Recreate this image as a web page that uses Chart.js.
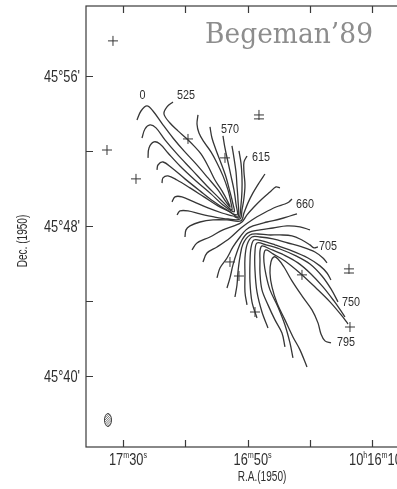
<!DOCTYPE html>
<html>
<head>
<meta charset="utf-8">
<script src="https://cdn.jsdelivr.net/npm/chart.js@4.4.0/dist/chart.umd.min.js"></script>
<style>
  html, body { margin: 0; padding: 0; background: #fff; overflow: hidden; }
  #wrap { width: 397px; height: 489px; overflow: hidden; }
  canvas { display: block; }
</style>
</head>
<body>
<div id="wrap"><canvas id="map" width="420" height="489"></canvas></div>
<script>
// x = R.A. in seconds of time after 10h16m, y = Dec. in arcmin after 45°
const raTicks = [90, 70, 50, 30, 10];
const raTickLabels = { 90: '17m30s', 50: '16m50s', 10: '10h16m10s' };
const decTicks = [56, 52, 48, 44, 40];
const decTickLabels = { 56: "45°56'", 48: "45°48'", 40: "45°40'" };

// isovelocity contours (km/s), each read as [ra, dec] vertices
const c525 = [[85.51,53.65],[84.23,54.13],[82.30,54.40],[80.38,54.13],[77.17,53.39],[73.96,52.69],[70.43,52.00],[66.57,51.31],[62.72,50.56],[59.51,49.92],[56.94,49.28],[55.66,49.01],[56.30,49.28],[58.23,49.87],[60.48,50.45],[62.72,51.20],[64.97,51.84],[67.22,52.27],[69.78,52.69],[72.35,53.07],[74.92,53.49],[76.85,53.97],[75.88,54.35],[73.96,54.61]];
const c540 = [[83.91,52.69],[82.95,53.17],[81.34,53.39],[79.41,53.23],[76.53,52.59],[72.67,51.84],[67.86,50.99],[63.04,50.13],[58.87,49.44],[56.30,49.01],[55.02,48.85],[55.34,49.23],[56.30,49.92],[57.91,50.67],[59.83,51.36],[61.76,51.95],[64.01,52.48],[65.61,52.96],[66.25,53.44],[65.93,53.92]];
const c555 = [[81.98,51.63],[81.66,52.16],[80.06,52.48],[78.13,52.37],[75.56,51.89],[71.71,51.20],[66.57,50.40],[61.76,49.71],[57.91,49.12],[54.38,48.75],[54.70,49.17],[55.66,49.81],[56.94,50.61],[58.55,51.36],[60.15,52.05],[61.44,52.69],[62.08,53.28]];
const c570 = [[79.09,50.99],[78.77,51.25],[77.17,51.41],[74.28,51.09],[70.11,50.51],[65.29,49.87],[61.12,49.33],[57.27,48.91],[53.41,48.59],[53.73,49.17],[54.38,49.92],[55.34,50.67],[56.30,51.41],[57.27,52.16],[57.91,52.80]];
const c585 = [[77.49,50.29],[77.17,50.56],[75.56,50.67],[72.67,50.45],[68.50,50.03],[64.01,49.55],[59.51,49.07],[55.66,48.75],[53.09,48.48],[53.09,49.39],[53.41,50.13],[53.73,50.88],[54.38,51.63],[55.02,52.27]];
const c600 = [[74.28,49.28],[73.32,49.55],[71.07,49.55],[67.22,49.28],[62.72,48.96],[58.23,48.69],[54.70,48.53],[52.77,48.43],[52.13,49.12],[51.81,49.87],[51.81,50.61],[52.13,51.36],[52.77,52.00]];
const c615 = [[72.67,48.59],[71.71,48.80],[69.14,48.80],[65.29,48.64],[60.80,48.48],[56.30,48.37],[52.45,48.37],[51.81,48.85],[51.17,49.49],[50.85,50.19],[51.17,50.88],[51.17,51.41],[50.20,51.73]];
const c630 = [[70.11,47.41],[69.78,47.79],[68.50,48.00],[65.29,48.21],[61.12,48.32],[56.62,48.32],[52.13,48.27],[51.17,48.69],[49.88,49.23],[48.28,49.76],[46.35,50.29],[44.43,50.77]];
const c645 = [[67.86,46.72],[66.25,47.09],[62.08,47.41],[57.91,47.79],[54.38,48.00],[51.81,48.21],[50.20,48.59],[47.96,49.01],[45.39,49.44],[42.82,49.81],[40.89,50.08],[39.61,50.03]];
const c660 = [[64.33,46.08],[63.04,46.56],[59.83,46.88],[55.66,47.36],[52.13,47.89],[48.60,48.32],[44.75,48.69],[40.89,49.01],[38.01,49.17],[36.72,49.28],[35.76,49.44]];
const c675 = [[59.83,45.23],[58.87,45.76],[56.62,46.29],[54.70,46.88],[52.45,47.41],[50.52,47.79],[48.28,48.00],[43.78,48.21],[39.61,48.37],[36.40,48.53],[34.15,48.64]];
const c690 = [[56.62,44.69],[55.66,45.23],[54.70,45.92],[53.41,46.61],[51.81,47.25],[49.88,47.63],[46.03,47.79],[41.86,47.89],[37.36,48.00],[33.19,47.95],[29.98,47.79]];
const c705 = [[54.06,44.21],[53.41,44.85],[53.09,45.55],[52.45,46.35],[51.49,47.04],[49.24,47.52],[46.67,47.57],[43.46,47.52],[39.61,47.52],[35.76,47.47],[32.55,47.25],[29.98,46.99],[28.70,46.83],[27.41,46.88]];
const c720 = [[50.20,43.79],[50.85,44.48],[50.85,45.39],[50.85,46.29],[50.20,46.99],[48.60,47.41],[46.03,47.41],[41.86,47.31],[37.04,47.09],[32.55,46.88],[28.38,46.61],[25.81,46.29],[24.52,46.03]];
const c735 = [[46.99,43.09],[48.60,43.95],[49.24,45.01],[49.24,46.08],[48.92,46.83],[47.96,47.25],[45.39,47.20],[41.22,46.99],[35.76,46.67],[30.62,46.29],[26.77,45.87],[24.52,45.49],[23.24,45.12]];
const c750 = [[43.46,42.56],[45.39,43.41],[46.99,44.48],[47.64,45.65],[47.64,46.61],[46.99,47.09],[44.10,46.99],[39.61,46.77],[34.47,46.40],[29.98,45.97],[26.13,45.33],[23.24,44.64],[20.99,43.95]];
const c765 = [[38.01,41.55],[38.97,42.29],[41.22,42.99],[43.46,43.79],[45.39,44.59],[46.03,45.49],[46.03,46.19],[46.03,46.67],[45.39,46.93],[42.82,46.77],[38.33,46.45],[33.83,46.03],[29.66,45.44],[25.81,44.75],[22.28,44.00],[20.03,43.47],[18.75,43.15]];
const c780 = [[35.44,40.96],[36.40,41.76],[38.01,42.72],[40.25,43.68],[42.82,44.59],[44.10,45.39],[44.75,46.08],[44.75,46.51],[44.10,46.72],[41.86,46.51],[38.01,46.13],[32.87,45.44],[28.05,44.69],[23.56,43.95],[19.71,43.20],[17.78,42.77]];
const c795 = [[30.94,40.48],[33.19,41.39],[35.44,42.08],[38.01,42.99],[40.57,43.89],[42.18,44.75],[42.82,45.49],[42.50,46.08],[41.54,46.35],[40.25,46.24],[38.33,45.81],[35.76,45.07],[32.55,44.27],[29.34,43.52],[27.41,42.83],[26.45,42.24],[25.17,41.87],[23.24,41.76]];

const contourLines = [c525, c540, c555, c570, c585, c600, c615, c630, c645, c660,
                      c675, c690, c705, c720, c735, c750, c765, c780, c795];

// contour labels
const labelText = ['0', '525', '570', '615', '660', '705', '750', '795'];
const labelRa   = [83.75, 69.78, 55.66, 45.71, 31.58, 24.20, 16.82, 18.42];
const labelDec  = [54.93, 54.93, 53.12, 51.63, 49.12, 46.88, 43.89, 41.76];

// foreground stars (+), two of them doubled
const starRa  = [93.22, 95.14, 85.83, 69.14, 46.35, 57.26, 55.66, 52.77, 32.55, 17.46, 47.63, 17.14];
const starDec = [57.87, 52.05, 50.51, 52.64, 53.92, 51.63, 46.08, 45.33, 45.39, 45.71, 43.41, 42.61];
const extraBarRa  = [46.35, 17.46];
const extraBarDec = [53.71, 45.49];

// synthesized beam
const beamRa = 94.82;
const beamDec = 37.65;

const ink = '#363636';

function richParts(str) {
    // digits on the line, unit letters (h m s) as small raised letters
    const parts = [];
    for (const ch of str) {
        const sup = /[hms]/.test(ch);
        const last = parts[parts.length - 1];
        if (last && last.sup === sup) last.t += ch; else parts.push({ t: ch, sup });
    }
    return parts;
}

function drawRich(ctx, str, x, y, size, sx, align) {
    const parts = richParts(str);
    const fontOf = p => `${p.sup ? Math.round(size * 0.56) : size}px "Liberation Sans", "DejaVu Sans", sans-serif`;
    let w = 0;
    parts.forEach(p => { ctx.font = fontOf(p); p.w = ctx.measureText(p.t).width * sx; w += p.w; });
    let cx = align === 'center' ? x - w / 2 : align === 'right' ? x - w : x;
    parts.forEach(p => {
        ctx.save();
        ctx.font = fontOf(p);
        ctx.translate(cx, y - (p.sup ? size * 0.45 : 0));
        ctx.scale(sx, 1);
        ctx.textAlign = 'left';
        ctx.textBaseline = 'alphabetic';
        ctx.fillText(p.t, 0, 0);
        ctx.restore();
        cx += p.w;
    });
}

const framePlugin = {
    id: 'frame',
    afterDraw(chart) {
        const { ctx, chartArea: a } = chart;
        const xs = chart.scales.x, ys = chart.scales.y;
        ctx.save();

        // --- frame with inward ticks ---
        ctx.strokeStyle = '#3a3a3a';
        ctx.lineWidth = 1.2;
        ctx.strokeRect(a.left, a.top, a.right - a.left, a.bottom - a.top);
        ctx.beginPath();
        raTicks.forEach(v => {
            const px = Math.round(xs.getPixelForValue(v)) + 0.5;
            ctx.moveTo(px, a.bottom); ctx.lineTo(px, a.bottom - 7);
            ctx.moveTo(px, a.top); ctx.lineTo(px, a.top + 7);
        });
        decTicks.forEach(v => {
            const py = Math.round(ys.getPixelForValue(v)) + 0.5;
            ctx.moveTo(a.left, py); ctx.lineTo(a.left + 7, py);
            ctx.moveTo(a.right, py); ctx.lineTo(a.right - 7, py);
        });
        ctx.stroke();

        // --- tick labels ---
        ctx.fillStyle = '#2e2e2e';
        Object.keys(raTickLabels).forEach(k => {
            const px = xs.getPixelForValue(Number(k));
            drawRich(ctx, raTickLabels[k], px + 5, a.bottom + 18, 16, 0.8, 'center');
        });
        Object.keys(decTickLabels).forEach(k => {
            const py = ys.getPixelForValue(Number(k));
            drawRich(ctx, decTickLabels[k], a.left - 6, py + 6, 16, 0.8, 'right');
        });

        // --- axis titles ---
        ctx.save();
        ctx.translate(27, 241);
        ctx.rotate(-Math.PI / 2);
        ctx.scale(0.72, 1);
        ctx.font = '14px "Liberation Sans", sans-serif';
        ctx.textAlign = 'center';
        ctx.fillText('Dec. (1950)', 0, 0);
        ctx.restore();

        ctx.save();
        ctx.translate(262, 481);
        ctx.scale(0.72, 1);
        ctx.font = '14px "Liberation Sans", sans-serif';
        ctx.textAlign = 'center';
        ctx.fillText('R.A.(1950)', 0, 0);
        ctx.restore();

        // --- contour labels ---
        labelText.forEach((t, i) => {
            ctx.save();
            ctx.translate(xs.getPixelForValue(labelRa[i]), ys.getPixelForValue(labelDec[i]));
            ctx.scale(0.9, 1);
            ctx.font = '12px "Liberation Sans", sans-serif';
            ctx.textAlign = 'center';
            ctx.textBaseline = 'middle';
            ctx.fillText(t, 0, 0);
            ctx.restore();
        });

        // --- hatched beam ellipse ---
        const bx = xs.getPixelForValue(beamRa), by = ys.getPixelForValue(beamDec);
        ctx.beginPath();
        ctx.ellipse(bx, by, 3.5, 6.5, 0, 0, Math.PI * 2);
        ctx.lineWidth = 1;
        ctx.stroke();
        ctx.save();
        ctx.clip();
        ctx.beginPath();
        for (let d = -14; d <= 14; d += 2.2) {
            ctx.moveTo(bx - 6, by + d + 6);
            ctx.lineTo(bx + 6, by + d - 6);
        }
        ctx.lineWidth = 0.8;
        ctx.strokeStyle = '#555';
        ctx.stroke();
        ctx.restore();

        // --- author stamp ---
        ctx.font = '27px "DejaVu Serif", serif';
        const tw = ctx.measureText('Begeman\u201989').width;
        ctx.save();
        ctx.translate(205, 43);
        ctx.scale(168 / tw, 1);
        ctx.fillStyle = '#8d8d8d';
        ctx.textAlign = 'left';
        ctx.fillText('Begeman\u201989', 0, 0);
        ctx.restore();

        ctx.restore();
    }
};

const contourSets = contourLines.map(line => ({
    type: 'scatter',
    data: line.map(p => ({ x: p[0], y: p[1] })),
    showLine: true,
    borderColor: ink,
    borderWidth: 1.3,
    pointRadius: 0,
    tension: 0.35,
    fill: false
}));

const starSet = {
    type: 'scatter',
    data: starRa.map((r, i) => ({ x: r, y: starDec[i] })),
    pointStyle: 'cross',
    pointRadius: 5,
    borderColor: ink,
    borderWidth: 1
};

const barSet = {
    type: 'scatter',
    data: extraBarRa.map((r, i) => ({ x: r, y: extraBarDec[i] })),
    pointStyle: 'line',
    pointRadius: 5,
    borderColor: ink,
    borderWidth: 1
};

new Chart(document.getElementById('map'), {
    type: 'scatter',
    data: { datasets: [...contourSets, starSet, barSet] },
    options: {
        responsive: false,
        animation: false,
        devicePixelRatio: 1,
        layout: { padding: { left: 86, top: 6, right: 10, bottom: 42 } },
        plugins: { legend: { display: false }, tooltip: { enabled: false } },
        scales: {
            x: { type: 'linear', reverse: true, min: -2.13, max: 101.88, display: false },
            y: { type: 'linear', min: 36.21, max: 59.73, display: false }
        }
    },
    plugins: [framePlugin]
});
</script>
</body>
</html>
